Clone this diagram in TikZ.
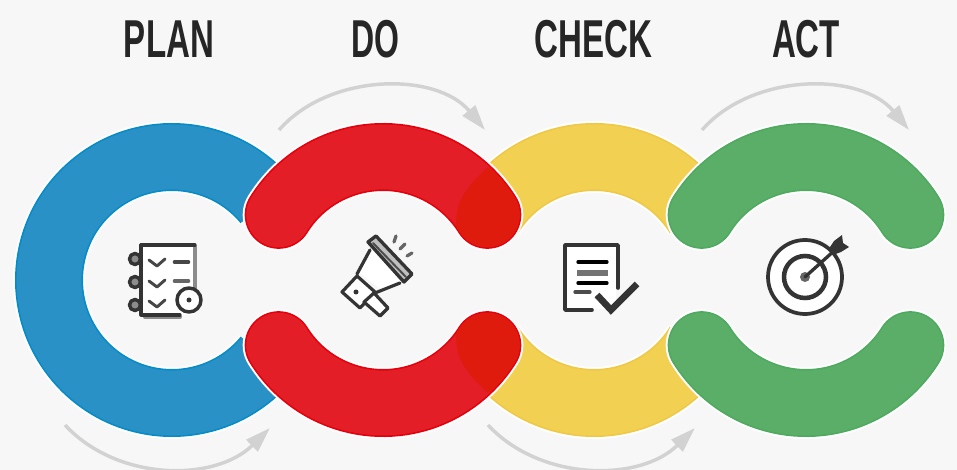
\documentclass[tikz,border=0pt]{standalone}
\usepackage{fontspec}
\usepackage{graphicx}
\setmainfont{Liberation Sans}
\usetikzlibrary{arrows.meta}
\definecolor{bgc}{RGB}{247,247,247}
\definecolor{blueb}{RGB}{41,145,198}
\definecolor{bluee}{RGB}{5,140,200}
\definecolor{redb}{RGB}{227,30,38}
\definecolor{rede}{RGB}{230,0,12}
\definecolor{redd}{RGB}{222,27,12}
\definecolor{yelb}{RGB}{241,208,82}
\definecolor{yele}{RGB}{240,200,70}
\definecolor{greb}{RGB}{90,174,104}
\definecolor{gree}{RGB}{78,170,95}
\definecolor{arrowc}{RGB}{210,210,210}
\definecolor{inkc}{RGB}{52,52,52}
\newcommand{\bandpath}[4]{%
  \draw[white,line width=54pt,#1] #4;
  \draw[#2,line width=51pt,#1] #4;
  \draw[#3,line width=48.5pt,#1] #4;}
\tikzset{
  title/.style={font=\fontsize{40}{40}\selectfont\bfseries,text=black!85,inner sep=0pt,anchor=center},
  flow/.style={arrowc,line width=2.6pt,-{Triangle[length=19pt,width=12pt]}},
  ink/.style={inkc,line width=2pt,line cap=round,line join=round},
  inkthin/.style={ink,line width=2.2pt},
}
\begin{document}
\begin{tikzpicture}[x=.75pt,y=.75pt,yscale=-1]
\useasboundingbox (0,0) rectangle (957,470);
\fill[bgc] (0,0) rectangle (957,470);
% titles
\node[title] (plan) at (169,39) {\scalebox{.62}[1]{PLAN}};
\node[title] (do) at (375.5,39) {\scalebox{.6}[1]{DO}};
\node[title] (check) at (593.5,39) {\scalebox{.62}[1]{CHECK}};
\node[title] (act) at (806,39) {\scalebox{.62}[1]{ACT}};
% bands
\bandpath{}{bluee}{blueb}{(172,280) ++(-40:123) arc[start angle=-40,end angle=-320,radius=123]}
\bandpath{}{yele}{yelb}{(594,280) ++(212:123) arc[start angle=212,end angle=328,radius=123]}
\bandpath{}{yele}{yelb}{(594,280) ++(148:123) arc[start angle=148,end angle=32,radius=123]}
\bandpath{line cap=round}{rede}{redb}{(383,280) ++(212:123) arc[start angle=212,end angle=328,radius=123]}
\bandpath{line cap=round}{rede}{redb}{(383,280) ++(148:123) arc[start angle=148,end angle=32,radius=123]}
\begin{scope}
\clip (487,168) .. controls (472,182) and (460,195) .. (457,212) -- (452,265) -- (540,265) -- (540,168) -- cycle;
\draw[redd,line width=48.5pt,line cap=round] (383,280) ++(212:123) arc[start angle=212,end angle=328,radius=123];
\end{scope}
\begin{scope}
\clip (487,392) .. controls (472,378) and (460,365) .. (457,348) -- (452,295) -- (540,295) -- (540,392) -- cycle;
\draw[redd,line width=48.5pt,line cap=round] (383,280) ++(148:123) arc[start angle=148,end angle=32,radius=123];
\end{scope}
\bandpath{line cap=round}{gree}{greb}{(806,280) ++(212:123) arc[start angle=212,end angle=328,radius=123]}
\bandpath{line cap=round}{gree}{greb}{(806,280) ++(148:123) arc[start angle=148,end angle=32,radius=123]}
% flow arrows
\coordinate (f1a) at (65,425); \coordinate (f1b) at (270,428);
\coordinate (f2a) at (279,130); \coordinate (f2b) at (485,130);
\coordinate (f3a) at (488,425); \coordinate (f3b) at (695,428);
\coordinate (f4a) at (702,130); \coordinate (f4b) at (909,130);
\draw[flow] (f1a) .. controls (118,482) and (215,482) .. (f1b);
\draw[flow] (f2a) .. controls (330,72) and (437,72) .. (f2b);
\draw[flow] (f3a) .. controls (541,482) and (640,482) .. (f3b);
\draw[flow] (f4a) .. controls (753,72) and (861,72) .. (f4b);
% clipboard icon
\fill[white] (141,245) rectangle (195,315);
\draw[ink,black!45,line width=3.5pt] (195,247) -- (195,290);
\draw[ink,black!45,line width=3pt] (145,317) -- (180,317);
\draw[ink,line width=2.4pt] (195,245) -- (141,245) -- (141,315) -- (180,315);
\foreach \yy in {259,282,305} \draw[ink,line width=2.6pt,fill=black!45] (135,\yy) circle[radius=5.5];
\foreach \yy in {262,283,303} {
  \draw[inkthin,black!72] (149,\yy-2) -- (157,\yy+4) -- (165,\yy-3);}
\draw[ink,line width=3.5pt,black!72] (175,262) -- (188,262);
\draw[ink,line width=3.5pt,black!60] (175,281) -- (188,281);
\draw[ink,line width=2.6pt,fill=white] (189,300) circle[radius=12];
\fill[inkc] (189,300) circle[radius=2.5];
% megaphone icon
\fill[white] (371,248) -- (405,282) -- (385,292) -- (358,272) -- cycle;
\draw[ink,line width=2.5pt,fill=black!25] (368,242) -- (376,236) -- (412,274) -- (404,282) -- cycle;
\draw[ink,line width=1.5pt,black!70] (373,243) -- (406,277);
\draw[ink,line width=2.4pt] (370,250) -- (357,274);
\draw[ink,line width=2.4pt] (400,283) -- (375,293);
\draw[ink,line width=2.4pt,fill=white] (342,292) -- (357,276) -- (375,292) -- (360,308) -- cycle;
\fill[inkc] (356,292) circle[radius=2.5];
\draw[ink,line width=2.4pt,fill=white] (364,302) -- (374,293) -- (388,308) -- (380,316) -- cycle;
\draw[ink,line width=2.4pt,black!60] (396,236) -- (394,242);
\draw[ink,line width=2.4pt,black!60] (405,244) -- (400,249);
\draw[ink,line width=2.4pt,black!60] (412,253) -- (407,256);
% checklist icon
\fill[white] (566,246) rectangle (616,309);
\draw[ink,line width=2.7pt] (618,288) -- (618,245) -- (565,245) -- (565,310) -- (592,310);
\draw[ink,line width=2.5pt,black] (578,262) -- (607,262);
\draw[ink,line width=5pt,black!55,line cap=butt] (577,273) -- (608,273);
\draw[ink,line width=2.5pt,black] (578,283) -- (607,283);
\draw[ink,line width=2.5pt,black!70] (575,292) -- (590,292);
\draw[ink,line width=5pt,line cap=butt,line join=miter] (597,295) -- (611,310) -- (637,284);
% target icon
\fill[white] (805,277) circle[radius=38];
\draw[ink,line width=2.8pt] (805,277) circle[radius=37];
\draw[ink,line width=3.4pt] (805,277) circle[radius=21];
\fill[black!60] (805,277) circle[radius=5];
\draw[ink,line width=2.5pt] (805,277) -- (835,250);
\fill[inkc] (834,241) -- (842,235) -- (843,243) -- (849,247) -- (841,252) -- (833,255) -- (828,250) -- cycle;
\end{tikzpicture}
\end{document}
